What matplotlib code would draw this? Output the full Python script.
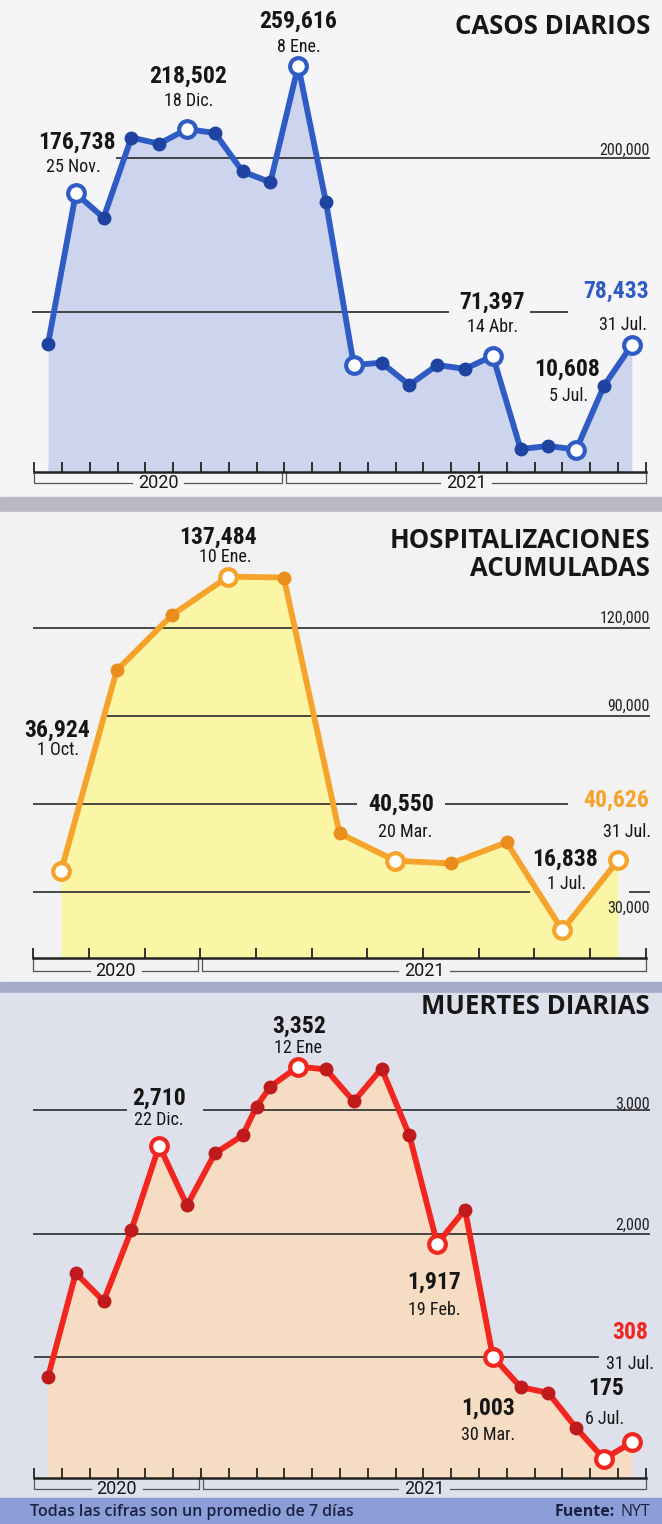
import numpy as np
import matplotlib.pyplot as plt
from matplotlib.patches import Rectangle

# --- data -------------------------------------------------------------
casos_x = list(range(22))
casos = [79000, 176738, 161000, 213000, 209000, 218502, 216000, 191000, 184000,
         259616, 171000, 65500, 67000, 52500, 65500, 63000, 71397, 11000, 13000,
         10608, 52000, 78433]
casos_open = [1, 5, 9, 11, 16, 19, 21]
casos_dates = {1: "25 Nov.", 5: "18 Dic.", 9: "8 Ene.", 16: "14 Abr.",
               19: "5 Jul.", 21: "31 Jul."}

hosp_x = list(range(11))
hosp = [36924, 105500, 124500, 137484, 137200, 49900, 40550, 39600, 46800,
        16838, 40626]
hosp_open = [0, 3, 6, 9, 10]
hosp_dates = {0: "1 Oct.", 3: "10 Ene.", 6: "20 Mar.", 9: "1 Jul.", 10: "31 Jul."}

muertes_x = [0, 1, 2, 3, 4, 5, 6, 7, 7.5, 8, 9, 10, 11, 12, 13, 14, 15, 16,
             17, 18, 19, 20, 21]
muertes = [838, 1680, 1453, 2028, 2710, 2227, 2648, 2794, 3028, 3190, 3352,
           3328, 3069, 3336, 2794, 1917, 2194, 1003, 757, 709, 425, 175, 308]
muertes_open = [4, 10, 15, 17, 21, 22]
muertes_dates = {4: "22 Dic.", 10: "12 Ene", 15: "19 Feb.", 17: "30 Mar.",
                 21: "6 Jul.", 22: "31 Jul."}

years = ["2020", "2021"]

# --- style ------------------------------------------------------------
W, H = 662, 1524
NARROW = ["Roboto Condensed", "Liberation Sans Narrow", "Roboto", "DejaVu Sans"]
TITLE = "Open Sans"
INK = "#161616"
GRID = "#2b2b2b"

BLUE, BLUE_DOT, BLUE_FILL = "#2f5cc4", "#1e43a0", "#cdd4ee"
ORANGE, ORANGE_DOT, YELLOW_FILL = "#f5a32a", "#ea8d1a", "#fbf6a6"
RED, RED_DOT, PEACH_FILL = "#f0261f", "#bf1a1c", "#f5dcc2"

fig = plt.figure(figsize=(W / 100, H / 100), dpi=100)
fig.patch.set_facecolor("#f4f4f6")


def band(y0, y1, color):
    fig.patches.append(Rectangle((0, 1 - y1 / H), 1, (y1 - y0) / H,
                                 transform=fig.transFigure, color=color,
                                 zorder=-10))


band(0, 497, "#f5f5f7")
band(497, 512, "#bab6c3")
band(512, 982, "#f2f2f2")
band(982, 993, "#a6abc9")
band(993, 1498, "#dee0eb")
band(1498, H, "#8c9ed8")


def make_panel(top, axis, x0, dx, zero, scale):
    ax = fig.add_axes([0, 1 - axis / H, 1, (axis - top) / H])
    ax.set_xlim(-x0 / dx, (W - x0) / dx)
    ax.set_ylim((zero - axis) / scale, (zero - top) / scale)
    ax.patch.set_visible(False)
    for s in ["top", "left", "right"]:
        ax.spines[s].set_visible(False)
    ax.set_yticks([])
    ax.height_px = axis - top
    return ax


def xi(ax, px):
    a, b = ax.get_xlim()
    return a + (b - a) * px / W


def px_to_x(ax, px):
    a, b = ax.get_xlim()
    return (b - a) * px / W


def series(ax, x, y, opens, color, dot, fill):
    x = np.asarray(x, dtype=float)
    y = np.asarray(y, dtype=float)
    ax.fill_between(x, y, ax.get_ylim()[0], color=fill, lw=0, zorder=1)
    ax.plot(x, y, color=color, lw=4.2, zorder=3, solid_joinstyle="round")
    closed = [i for i in range(len(x)) if i not in opens]
    ax.plot(x[closed], y[closed], "o", ms=9, color=dot, zorder=4)
    ax.plot(x[opens], y[opens], "o", ms=12, mfc="white", mec=color, mew=3,
            zorder=5)


def grid(ax, value, segments, label=None, off=0):
    for a, b in segments:
        ax.hlines(value, xi(ax, a), xi(ax, b), color=GRID, lw=1.2, zorder=2)
    if label:
        ax.annotate(label, (xi(ax, 650), value), xytext=(0, off),
                    textcoords="offset pixels", ha="right", va="baseline",
                    family=NARROW, size=11.5, color="#222222", zorder=6)


def axis(ax, n_ticks, split, drop):
    ticks = np.arange(n_ticks) - 0.5
    ax.set_xticks(ticks)
    ax.tick_params(axis="x", direction="in", length=7, width=1.3,
                   color="#222222", labelbottom=False)
    ax.spines["bottom"].set_bounds(ticks[0], ticks[-1])
    ax.spines["bottom"].set_linewidth(1.8)
    ax.spines["bottom"].set_color("#222222")
    gap = px_to_x(ax, 2)
    half = px_to_x(ax, 26)
    yb = -drop / ax.height_px
    tr = ax.get_xaxis_transform()
    spans = [(ticks[0], split - gap), (split + gap, ticks[-1])]
    for (a, b), lab in zip(spans, years):
        mid = (a + b) / 2
        ax.plot([mid - half, a, a], [yb, yb, 0], transform=tr, clip_on=False,
                color="#555555", lw=0.9)
        ax.plot([mid + half, b, b], [yb, yb, 0], transform=tr, clip_on=False,
                color="#555555", lw=0.9)
        ax.text(mid, yb, lab, transform=tr, ha="center", va="center",
                family="Roboto", size=13, color=INK)


def note(ax, x, v, date, voff, doff, color=INK):
    ax.annotate(f"{v:,}", (x, v), xytext=voff, textcoords="offset pixels",
                ha="center", va="center", family=NARROW, weight="black",
                size=17, color=color, zorder=7)
    ax.annotate(date, (x, v), xytext=doff, textcoords="offset pixels",
                ha="center", va="center", family=NARROW, size=13,
                color=INK, zorder=7)


def title(lines, ys):
    for text, y in zip(lines, ys):
        fig.text(650 / W, 1 - y / H, text, ha="right", va="center",
                 family=TITLE, weight="bold", size=18.5, color=INK)


# --- casos diarios ------------------------------------------------------
ax1 = make_panel(0, 472, 48, 27.8, 466, 1.542 / 1000)
grid(ax1, 200000, [(116, 650)], "200,000", 3)
grid(ax1, 100000, [(32, 449), (530, 568)])
series(ax1, casos_x, casos, casos_open, BLUE, BLUE_DOT, BLUE_FILL)
axis(ax1, 23, 8.5, 11)
casos_offsets = {1: ((1, 51), (-2, 26)), 5: ((1, 53), (2, 28)),
                 9: ((0, 44), (1, 19)), 16: ((-1, 54), (0, 29)),
                 19: ((-9, 80), (-8, 54)), 21: ((-16, 54), (-9, 20))}
for i, d in casos_dates.items():
    vo, do = casos_offsets[i]
    note(ax1, casos_x[i], casos[i], d, vo, do, BLUE if i == 21 else INK)
title(["CASOS DIARIOS"], [27])

# --- hospitalizaciones -------------------------------------------------
ax2 = make_panel(505, 958, 61, 55.7, 979.5, 2.93 / 1000)
grid(ax2, 120000, [(33, 650)], "120,000", 5)
grid(ax2, 90000, [(105, 650)], "90,000", 5)
grid(ax2, 60000, [(33, 357), (445, 568)])
grid(ax2, 30000, [(33, 530), (629, 650)], "30,000", -21)
series(ax2, hosp_x, hosp, hosp_open, ORANGE, ORANGE_DOT, YELLOW_FILL)
axis(ax2, 12, 2.5, 13)
hosp_offsets = {0: ((-4, 141), (-3, 121)), 3: ((-10, 39), (-3, 20)),
                6: ((6, 56), (10, 29)), 9: ((3, 71), (4, 46)),
                10: ((-2, 60), (9, 28))}
for i, d in hosp_dates.items():
    vo, do = hosp_offsets[i]
    note(ax2, hosp_x[i], hosp[i], d, vo, do, ORANGE if i == 10 else INK)
title(["HOSPITALIZACIONES", "ACUMULADAS"], [541, 569])

# --- muertes diarias ---------------------------------------------------
ax3 = make_panel(993, 1478, 48, 27.8, 1480.5, 0.1235)
grid(ax3, 3000, [(33, 127), (203, 650)], "3,000", 1)
grid(ax3, 2000, [(33, 650)], "2,000", 4)
grid(ax3, 1000, [(34, 599)])
series(ax3, muertes_x, muertes, muertes_open, RED, RED_DOT, PEACH_FILL)
axis(ax3, 23, 5.5, 11)
muertes_offsets = {4: ((0, 48), (0, 26)), 10: ((1, 40), (0, 19)),
                   15: ((-3, -38), (-3, -66)), 17: ((-5, -52), (-5, -78)),
                   21: ((2, 70), (1, 40)), 22: ((-2, 110), (-2, 78))}
for i, d in muertes_dates.items():
    vo, do = muertes_offsets[i]
    note(ax3, muertes_x[i], muertes[i], d, vo, do, RED if i == 22 else INK)
title(["MUERTES DIARIAS"], [1006])

# --- footer -------------------------------------------------------------
fig.text(30 / W, 1 - 1512 / H, "Todas las cifras son un promedio de 7 días",
         ha="left", va="center", family=TITLE, weight="semibold", size=11.5,
         color="#1b2142")
fig.text(650 / W, 1 - 1512 / H, "NYT", ha="right", va="center", family=TITLE,
         size=11.5, color="#1b2142")
fig.text(615 / W, 1 - 1512 / H, "Fuente:", ha="right", va="center",
         family=TITLE, weight="bold", size=11.5, color="#1b2142")

fig.savefig("out.png", dpi=100)
